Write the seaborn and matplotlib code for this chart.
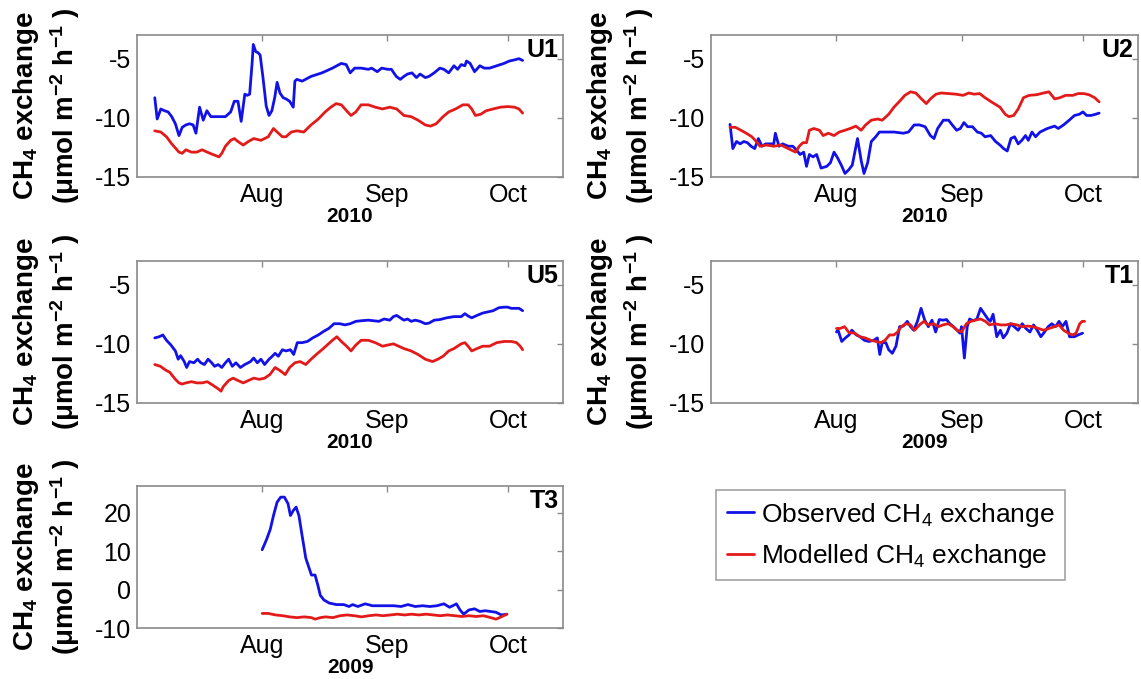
import numpy as np
import pandas as pd
import matplotlib
matplotlib.use('Agg')
import matplotlib.pyplot as plt
import matplotlib.dates as mdates
from matplotlib.lines import Line2D
import seaborn as sns

# ---------------- data (x = days after 1 July of the panel's year) ----------------
U1_obs_day = [4.4, 5.0, 5.9, 6.8, 7.7, 8.6, 9.5, 10.4, 11.2, 12.1, 13.0, 13.9, 14.6, 15.5, 16.4, 17.3, 18.3,
              20.1, 21.9, 23.2, 24.1, 25.0, 25.8, 26.7, 27.3, 27.9, 28.5, 28.8, 29.4, 30.0, 30.5, 31.2, 32.0,
              32.7, 33.4, 34.1, 34.7, 35.4, 36.2, 36.9, 37.8, 38.7, 39.1, 39.6, 40.9, 43.1, 45.8, 48.4, 50.6,
              51.8, 52.8, 53.9, 55.5, 57.3, 58.1, 59.5, 60.6, 62.1, 63.0, 64.2, 65.2, 66.1, 67.0, 68.1, 69.2,
              70.1, 71.4, 72.3, 73.6, 75.0, 76.0, 77.2, 78.5, 79.4, 80.3, 81.2, 81.6, 82.5, 83.6, 84.9, 86.0,
              87.3, 89.1, 90.9, 92.2, 93.5, 94.6, 95.5]
U1_obs = [-8.3, -10.1, -9.25, -9.4, -9.5, -9.9, -10.5, -11.5, -10.8, -10.6, -10.5, -10.6, -11.3, -9.1, -10.2,
          -9.4, -9.9, -9.9, -9.9, -9.5, -8.6, -8.6, -10.3, -8.0, -8.1, -8.0, -5.4, -3.8, -4.4, -4.5, -4.7, -6.6,
          -9.0, -9.8, -9.4, -8.3, -7.0, -7.9, -8.3, -8.4, -8.6, -9.1, -6.9, -6.75, -6.9, -6.5, -6.2, -5.8, -5.4,
          -5.5, -6.2, -5.8, -5.8, -5.9, -5.8, -6.1, -5.8, -5.9, -5.9, -6.5, -6.75, -6.5, -6.3, -6.2, -6.6, -6.3,
          -6.6, -6.5, -6.2, -5.8, -5.9, -6.2, -5.6, -5.9, -5.5, -5.6, -5.2, -5.4, -6.1, -5.6, -5.8, -5.8, -5.6,
          -5.4, -5.2, -5.1, -5.0, -5.15]
U1_mod_day = [4.4, 5.9, 7.3, 8.6, 10.4, 11.2, 12.1, 13.5, 14.8, 16.1, 17.4, 18.8, 20.3, 21.0, 21.9, 23.2, 24.1,
              25.0, 26.3, 27.6, 28.9, 30.7, 32.5, 33.8, 34.7, 36.0, 36.9, 38.2, 39.6, 41.3, 43.1, 44.9, 46.6,
              48.0, 49.3, 50.6, 51.9, 53.0, 54.2, 55.5, 57.3, 59.0, 60.8, 62.6, 64.3, 66.1, 67.9, 69.6, 71.4,
              72.7, 74.1, 75.8, 77.2, 78.9, 80.7, 82.0, 82.9, 83.8, 85.1, 86.5, 88.2, 90.0, 91.8, 93.5, 94.6, 95.5]
U1_mod = [-11.1, -11.2, -11.6, -12.2, -12.9, -13.0, -12.7, -12.9, -12.9, -12.7, -12.9, -13.1, -13.3, -13.0,
          -12.4, -11.9, -11.75, -12.0, -12.3, -12.0, -11.75, -11.9, -11.6, -10.9, -11.2, -11.6, -11.6, -11.2,
          -11.1, -11.2, -10.6, -10.1, -9.5, -9.1, -8.8, -8.9, -9.4, -9.8, -9.5, -8.9, -8.9, -9.1, -9.25, -9.1,
          -9.25, -9.8, -9.9, -10.2, -10.6, -10.7, -10.5, -9.9, -9.5, -9.25, -8.9, -8.9, -9.25, -9.8, -9.7, -9.4,
          -9.25, -9.1, -9.05, -9.1, -9.25, -9.6]

U2_obs_day = [4.7, 5.4, 6.3, 7.2, 8.1, 9.0, 9.9, 10.8, 11.7, 12.6, 13.5, 14.4, 15.5, 15.9, 16.8, 17.7, 19.1,
              20.2, 21.1, 22.0, 22.9, 23.6, 24.3, 25.2, 26.1, 27.2, 28.6, 29.5, 30.4, 31.3, 32.2, 33.1, 34.0,
              34.9, 36.2, 37.1, 37.8, 38.7, 39.6, 40.7, 41.6, 43.4, 45.2, 47.5, 48.8, 50.2, 51.5, 52.9, 54.2,
              55.1, 56.0, 57.4, 58.7, 59.6, 60.7, 61.6, 62.5, 63.4, 64.6, 65.8, 66.8, 67.7, 69.1, 70.3, 71.4,
              72.3, 73.2, 74.1, 75.0, 75.9, 76.8, 77.7, 78.4, 79.3, 80.2, 81.3, 83.1, 84.9, 85.8, 87.1, 88.5,
              89.8, 91.0, 91.9, 92.8, 93.9, 95.0, 95.9]
U2_obs = [-10.55, -12.6, -12.0, -12.2, -12.0, -12.1, -12.4, -12.6, -11.75, -12.4, -12.2, -12.2, -12.2, -11.3,
          -12.4, -12.2, -12.4, -12.4, -12.7, -13.1, -12.9, -14.1, -13.1, -13.3, -13.1, -14.25, -14.1, -13.8,
          -12.9, -13.4, -14.0, -14.7, -14.4, -14.0, -11.75, -13.6, -14.7, -13.8, -12.0, -11.6, -11.2, -11.2,
          -11.2, -11.3, -11.2, -10.6, -10.6, -10.75, -11.5, -11.75, -10.9, -10.2, -10.2, -10.6, -11.05, -10.9,
          -10.4, -10.75, -10.75, -11.2, -11.3, -11.6, -11.5, -12.0, -12.3, -12.6, -12.8, -11.75, -11.6, -12.2,
          -11.9, -11.5, -11.9, -11.2, -11.6, -11.2, -10.9, -10.7, -10.9, -10.6, -10.2, -9.8, -9.7, -9.5, -9.8,
          -9.8, -9.7, -9.6]
U2_mod_day = [4.7, 6.0, 7.4, 8.7, 10.1, 11.2, 12.1, 13.7, 15.5, 17.3, 19.1, 20.9, 21.8, 22.7, 23.6, 24.3, 25.4,
              26.8, 27.7, 29.0, 30.4, 31.7, 33.1, 34.4, 35.8, 37.1, 38.2, 39.6, 41.2, 42.3, 43.9, 45.2, 46.6,
              47.9, 49.3, 50.6, 52.0, 53.2, 54.2, 55.6, 56.9, 58.7, 60.5, 62.3, 63.7, 65.0, 66.4, 67.7, 69.5,
              71.4, 72.7, 73.6, 74.8, 75.9, 77.2, 78.6, 80.4, 82.2, 83.5, 84.9, 86.2, 87.6, 89.4, 90.7, 92.1,
              93.4, 94.8, 95.9]
U2_mod = [-10.8, -10.8, -11.05, -11.3, -11.6, -12.0, -12.4, -12.3, -12.4, -12.3, -12.6, -12.9, -12.4, -12.1,
          -12.1, -11.05, -10.9, -11.05, -11.5, -11.3, -11.5, -11.2, -11.05, -10.9, -10.7, -11.05, -10.6, -10.2,
          -10.1, -10.2, -9.7, -9.1, -8.6, -8.1, -7.8, -7.9, -8.4, -8.8, -8.4, -8.0, -7.9, -7.95, -8.0, -8.1,
          -7.9, -8.0, -7.95, -8.3, -8.7, -9.1, -9.7, -9.9, -9.8, -9.25, -8.3, -8.1, -8.05, -7.9, -7.8, -8.4,
          -8.3, -8.1, -8.1, -7.95, -7.95, -8.05, -8.3, -8.65]

U5_obs_day = [4.4, 5.5, 6.4, 7.3, 8.4, 9.5, 10.2, 10.8, 11.7, 12.3, 13.0, 14.1, 15.0, 15.8, 16.7, 17.6, 18.5,
              19.2, 20.1, 21.0, 21.9, 22.7, 23.6, 24.5, 25.6, 26.7, 28.1, 28.9, 29.8, 30.7, 31.6, 32.7, 33.5,
              34.2, 35.0, 36.0, 36.9, 38.0, 38.8, 39.7, 40.9, 42.2, 43.5, 44.9, 46.2, 47.5, 48.8, 50.2, 51.5,
              52.8, 54.2, 55.5, 57.3, 58.6, 59.9, 61.2, 62.6, 63.5, 64.3, 65.2, 66.1, 67.0, 67.9, 68.9, 70.1,
              71.4, 72.3, 73.6, 75.0, 76.7, 78.5, 80.3, 81.2, 82.0, 82.9, 84.2, 85.6, 86.9, 88.2, 89.6, 90.9,
              91.8, 92.7, 93.5, 94.6, 95.5]
U5_obs = [-9.5, -9.4, -9.25, -9.7, -10.1, -10.6, -11.3, -11.0, -11.5, -12.0, -11.5, -11.6, -11.3, -11.6,
          -11.75, -11.3, -11.6, -11.9, -11.75, -12.0, -11.6, -11.3, -11.9, -11.6, -12.0, -11.75, -11.5, -11.2,
          -11.6, -11.3, -11.75, -11.3, -11.05, -10.8, -11.05, -10.5, -10.6, -10.5, -10.9, -9.9, -9.9, -9.8,
          -9.5, -9.25, -8.95, -8.7, -8.3, -8.3, -8.4, -8.3, -8.1, -8.05, -8.0, -8.05, -8.1, -7.9, -8.0, -7.7,
          -7.6, -7.8, -8.0, -7.9, -8.1, -8.0, -8.1, -8.3, -8.25, -8.0, -7.95, -7.8, -7.7, -7.7, -7.45, -7.65,
          -7.8, -7.6, -7.4, -7.3, -7.2, -6.95, -6.9, -6.9, -7.0, -7.0, -7.0, -7.2]
U5_mod_day = [4.4, 5.8, 7.0, 8.1, 9.5, 10.4, 11.2, 12.1, 13.5, 14.8, 16.1, 17.4, 18.8, 20.1, 20.8, 21.4, 22.7,
              23.8, 25.0, 26.3, 27.6, 28.9, 30.3, 31.6, 32.9, 34.2, 35.6, 36.7, 37.8, 39.1, 40.4, 41.8, 43.1,
              44.4, 45.8, 47.1, 48.4, 49.5, 50.6, 51.9, 53.0, 54.2, 55.5, 57.3, 59.0, 60.8, 62.1, 63.5, 64.8,
              66.1, 67.9, 69.6, 71.4, 73.2, 74.5, 75.8, 77.2, 78.5, 80.3, 81.2, 82.0, 82.9, 84.2, 85.6, 87.3,
              89.1, 90.9, 92.7, 94.0, 94.9, 95.5]
U5_mod = [-11.75, -11.9, -12.2, -12.4, -13.0, -13.3, -13.4, -13.3, -13.2, -13.3, -13.3, -13.2, -13.5, -13.8,
          -14.0, -13.6, -13.1, -12.9, -13.1, -13.3, -13.1, -12.9, -13.0, -12.9, -12.6, -12.0, -12.3, -12.6,
          -12.0, -11.6, -11.5, -11.75, -11.3, -10.9, -10.5, -10.1, -9.7, -9.4, -9.8, -10.2, -10.6, -10.1, -9.7,
          -9.7, -9.9, -10.2, -10.1, -10.0, -10.2, -10.4, -10.6, -10.9, -11.3, -11.5, -11.3, -11.05, -10.6,
          -10.4, -10.0, -9.9, -10.2, -10.6, -10.4, -10.2, -10.2, -9.9, -9.8, -9.8, -9.9, -10.2, -10.5]

T1_obs_day = [31.0, 31.4, 32.3, 33.2, 34.1, 34.8, 35.9, 36.8, 37.9, 39.0, 40.2, 41.1, 41.7, 42.3, 43.2, 43.9,
              44.8, 45.7, 46.6, 47.5, 48.5, 49.3, 50.1, 51.0, 51.9, 52.8, 53.7, 54.6, 55.5, 56.4, 57.3, 58.2,
              59.0, 59.9, 60.8, 61.5, 61.9, 62.6, 63.3, 63.9, 64.8, 65.7, 66.6, 67.5, 68.4, 69.0, 69.7, 70.6,
              71.5, 72.2, 73.1, 74.0, 74.9, 75.9, 76.9, 77.8, 78.8, 79.7, 80.6, 81.5, 82.4, 83.3, 84.2, 85.1,
              86.0, 86.8, 87.7, 88.6, 89.8, 90.7, 91.8]
T1_obs = [-9.0, -8.85, -9.8, -9.5, -9.25, -8.85, -9.25, -9.4, -9.7, -9.8, -9.7, -9.5, -10.9, -9.9, -9.9, -10.5,
          -10.8, -10.2, -8.55, -8.5, -8.1, -8.55, -8.85, -8.1, -7.0, -8.0, -8.55, -8.0, -9.0, -7.95, -8.0, -7.95,
          -8.3, -8.55, -8.85, -9.1, -8.55, -11.2, -8.55, -7.9, -8.05, -7.9, -7.0, -7.45, -7.9, -8.1, -7.5, -9.4,
          -8.85, -9.5, -9.1, -8.3, -8.55, -8.85, -8.3, -8.7, -9.0, -8.4, -8.85, -9.4, -9.0, -8.55, -8.3, -8.55,
          -8.1, -8.55, -8.1, -9.4, -9.4, -9.25, -9.1]
T1_mod_day = [31.0, 31.9, 33.0, 34.1, 35.5, 36.8, 38.1, 39.5, 40.8, 42.0, 43.0, 44.1, 45.2, 46.1, 47.0, 48.2,
              49.3, 50.3, 51.5, 52.6, 53.7, 55.0, 56.2, 57.3, 58.6, 59.8, 60.8, 61.9, 63.1, 64.2, 65.3, 66.6,
              67.8, 68.8, 70.2, 71.5, 72.9, 74.2, 75.5, 76.9, 78.2, 79.5, 80.9, 82.2, 83.5, 84.9, 86.0, 87.1,
              88.3, 89.3, 90.2, 91.1, 91.7, 92.3]
T1_mod = [-8.7, -8.7, -8.55, -9.05, -9.1, -9.4, -9.5, -9.7, -9.8, -9.9, -9.7, -9.25, -9.25, -9.0, -8.55, -8.3,
          -8.4, -8.85, -8.4, -8.1, -8.4, -8.3, -8.55, -8.4, -8.3, -8.55, -8.85, -9.0, -8.3, -8.1, -8.0, -7.9,
          -8.1, -8.4, -8.3, -8.4, -8.4, -8.3, -8.4, -8.55, -8.5, -8.55, -8.7, -8.85, -8.7, -8.55, -8.4, -8.85,
          -9.1, -9.25, -9.1, -8.3, -8.1, -8.1]

T3_obs_day = [31.0, 32.1, 33.0, 33.8, 34.7, 35.6, 36.5, 37.4, 38.0, 38.7, 39.4, 40.1, 40.9, 41.8, 42.5, 43.2,
              44.1, 44.8, 45.4, 46.3, 47.6, 49.4, 51.2, 52.5, 53.4, 54.7, 56.5, 58.3, 60.0, 61.8, 63.6, 65.4,
              67.1, 68.9, 70.7, 72.5, 74.3, 76.0, 77.4, 78.2, 79.1, 80.0, 80.9, 82.2, 83.6, 84.9, 86.2, 87.6,
              88.9, 90.2, 91.6]
T3_obs = [10.4, 13.1, 15.7, 19.3, 22.8, 24.1, 24.1, 22.4, 19.3, 20.6, 21.5, 19.3, 14.0, 8.2, 6.0, 3.8, 3.8,
          1.1, -1.5, -2.7, -3.5, -3.9, -3.9, -4.4, -3.9, -4.4, -3.7, -4.2, -4.2, -4.2, -4.2, -4.4, -3.9, -4.4,
          -4.2, -4.4, -4.2, -3.7, -4.6, -4.2, -3.7, -5.3, -6.4, -5.3, -5.0, -5.7, -5.5, -5.7, -5.9, -6.6, -6.4]
T3_mod_day = [31.0, 32.5, 34.3, 36.1, 37.8, 39.6, 41.4, 43.2, 44.1, 45.4, 46.7, 48.5, 50.3, 52.0, 53.8, 55.6,
              57.4, 59.2, 60.9, 62.7, 64.5, 66.3, 68.0, 69.8, 71.6, 73.4, 75.1, 76.9, 78.7, 80.5, 82.2, 84.0,
              85.8, 87.6, 88.9, 90.2, 91.6]
T3_mod = [-6.2, -6.2, -6.6, -6.8, -7.1, -7.3, -7.1, -7.3, -7.7, -7.3, -7.1, -7.3, -6.8, -6.6, -6.8, -7.1, -6.8,
          -6.6, -6.8, -6.6, -6.4, -6.6, -6.4, -6.6, -6.4, -6.6, -6.8, -6.6, -6.8, -7.0, -6.8, -7.0, -6.8, -7.3,
          -7.7, -7.1, -6.4]

panel_names = ['U1', 'U2', 'U5', 'T1', 'T3']
panel_years = [2010, 2010, 2010, 2009, 2009]
month_ticks = ['08-01', '09-01', '10-01']
U_yticks = [-15, -10, -5]
T3_yticks = [-10, 0, 10, 20]
series_names = ['Observed', 'Modelled']
legend_labels = ['Observed CH$_4$ exchange', 'Modelled CH$_4$ exchange']

# ---------------- style ----------------
sns.set_style('white')
plt.rcParams['font.family'] = ['Liberation Sans', 'DejaVu Sans']
plt.rcParams['mathtext.fontset'] = 'custom'
plt.rcParams['mathtext.rm'] = 'Liberation Sans'
plt.rcParams['mathtext.it'] = 'Liberation Sans:italic'
plt.rcParams['mathtext.bf'] = 'Liberation Sans:bold'
plt.rcParams['axes.unicode_minus'] = False
plt.rcParams['text.color'] = 'black'
plt.rcParams['axes.labelcolor'] = 'black'

OBS_COLOR = '#1212e8'
MOD_COLOR = '#e31a1a'
SPINE = '#8a8a8a'
palette = {'Observed': OBS_COLOR, 'Modelled': MOD_COLOR}

W, H = 1141, 679
fig = plt.figure(figsize=(W / 100, H / 100), dpi=100)

def rect(left, top, width, height):
    return [left / W, 1 - (top + height) / H, width / W, height / H]

rects = [rect(137, 35, 426, 142), rect(711, 35, 427, 142),
         rect(137, 261, 426, 142), rect(711, 261, 427, 142),
         rect(137, 486, 426, 142)]
series_data = [(U1_obs_day, U1_obs, U1_mod_day, U1_mod),
               (U2_obs_day, U2_obs, U2_mod_day, U2_mod),
               (U5_obs_day, U5_obs, U5_mod_day, U5_mod),
               (T1_obs_day, T1_obs, T1_mod_day, T1_mod),
               (T3_obs_day, T3_obs, T3_mod_day, T3_mod)]
ylims = [(-15, -3), (-15, -3), (-15, -3), (-15, -3), (-10, 27)]
yticks_list = [U_yticks, U_yticks, U_yticks, U_yticks, T3_yticks]

ylabel = 'CH$_\\mathbf{4}$ exchange\n(μmol m$^\\mathbf{-2}$ h$^\\mathbf{-1}$ )'

for name, year, r, (od, ov, md, mv), yl, yt in zip(panel_names, panel_years, rects, series_data,
                                                   ylims, yticks_list):
    ax = fig.add_axes(r)
    start = pd.Timestamp(f'{year}-07-01')
    df = pd.concat([
        pd.DataFrame({'date': start + pd.to_timedelta(np.asarray(od), unit='D'),
                      'value': ov, 'series': 'Observed'}),
        pd.DataFrame({'date': start + pd.to_timedelta(np.asarray(md), unit='D'),
                      'value': mv, 'series': 'Modelled'}),
    ], ignore_index=True)
    sns.lineplot(data=df, x='date', y='value', hue='series', hue_order=series_names,
                 palette=palette, estimator=None, sort=False, lw=2.0, ax=ax, legend=False)
    ax.set_xlim(start.to_pydatetime(), (start + pd.Timedelta(days=105.5)).to_pydatetime())
    ax.set_xticks([mdates.date2num(pd.Timestamp(f'{year}-{m}').to_pydatetime()) for m in month_ticks])
    ax.xaxis.set_major_formatter(mdates.DateFormatter('%b'))
    ax.set_ylim(*yl)
    ax.set_yticks(yt)
    ax.tick_params(axis='both', direction='in', length=4, width=1, colors=SPINE,
                   labelcolor='black', labelsize=18, top=True, right=True)
    ax.tick_params(axis='x', pad=4)
    ax.tick_params(axis='y', pad=4)
    for s in ax.spines.values():
        s.set_visible(True)
        s.set_color(SPINE)
        s.set_linewidth(1.2)
    ax.set_xlabel(str(year), fontsize=15, fontweight='bold', labelpad=0, color='black')
    ax.set_ylabel(ylabel, fontsize=20, fontweight='bold', linespacing=1.3, color='black')
    ax.yaxis.set_label_coords(-0.128, 0.5)
    ax.annotate(name, xy=(1, 1), xycoords='axes fraction', xytext=(-3, -2),
                textcoords='offset points', ha='right', va='top', fontsize=18,
                fontweight='bold', color='black')

handles = [Line2D([], [], color=OBS_COLOR, lw=2), Line2D([], [], color=MOD_COLOR, lw=2)]
leg = fig.legend(handles, legend_labels, loc='upper left', bbox_to_anchor=(716 / W, 1 - 490 / H),
                 fontsize=19, frameon=True, fancybox=False, edgecolor=SPINE, handlelength=1.05,
                 handletextpad=0.25, borderpad=0.4, labelspacing=0.5, borderaxespad=0)
leg.get_frame().set_linewidth(1.2)
for t in leg.get_texts():
    t.set_color('black')

fig.savefig('out.png', dpi=100)
